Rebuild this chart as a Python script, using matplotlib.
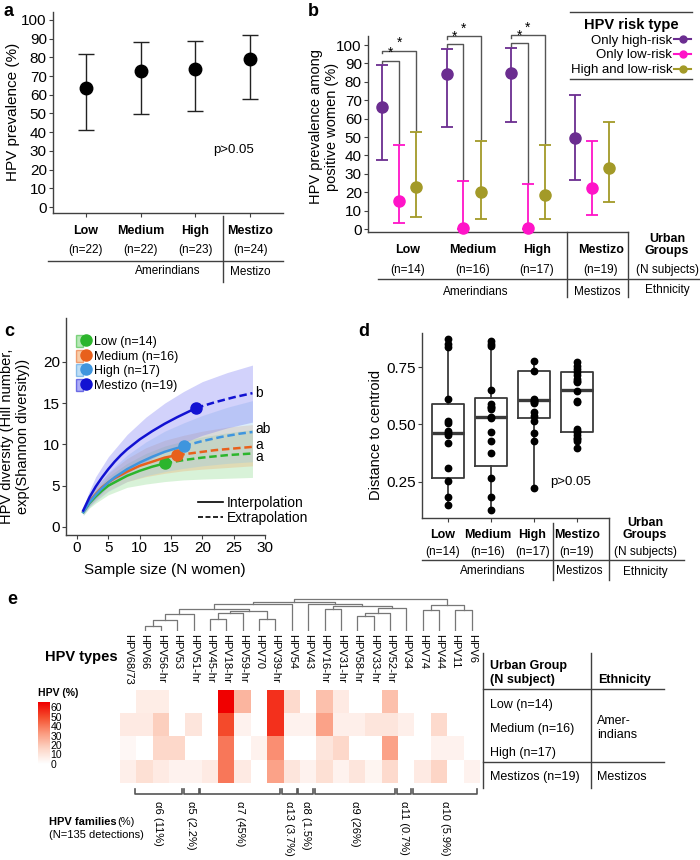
import numpy as np
import matplotlib.pyplot as plt
from matplotlib.lines import Line2D
from matplotlib.patches import Patch
from matplotlib.colors import LinearSegmentedColormap
from matplotlib.transforms import blended_transform_factory
from matplotlib.legend_handler import HandlerTuple

plt.rcParams['font.family'] = ['Liberation Sans', 'DejaVu Sans']

W, H = 700, 860

# ---------------- panel a: HPV prevalence per urban group
GROUPS = ["Low", "Medium", "High", "Mestizo"]
A_N = ["(n=22)", "(n=22)", "(n=23)", "(n=24)"]
A_PREV = [63.5, 72.7, 74.0, 79.0]
A_LO = [41.0, 49.5, 51.5, 57.5]
A_HI = [82.0, 88.3, 89.0, 92.0]

# ---------------- panel b: HPV risk type among positive women
B_N = ["(n=14)", "(n=16)", "(n=17)", "(n=19)"]
RISK_TYPES = ["Only high-risk", "Only low-risk", "High and low-risk"]
B_COLORS = ["#6b2d90", "#ff14c8", "#a39a28"]
B_HR = [66.5, 84.0, 85.0, 49.2]
B_HR_LO = [37.3, 55.7, 57.9, 26.6]
B_HR_HI = [89.0, 98.0, 98.5, 72.9]
B_LR = [15.4, 0.5, 0.5, 22.2]
B_LR_LO = [3.3, 0.0, 0.0, 7.8]
B_LR_HI = [45.6, 25.9, 24.2, 47.9]
B_HL = [22.6, 19.9, 18.6, 32.9]
B_HL_LO = [6.5, 5.6, 5.6, 14.8]
B_HL_HI = [53.0, 48.1, 45.8, 58.4]
B_SIG_INNER = [91.5, 100.5, 101.0]   # high vs low-risk bracket level
B_SIG_OUTER = [97.0, 105.0, 105.5]   # high vs high&low bracket level

# ---------------- panel c: Hill number rarefaction
C_LABELS = ["Low (n=14)", "Medium (n=16)", "High (n=17)", "Mestizo (n=19)"]
C_COLORS = ["#2cb52c", "#e8601c", "#3f95de", "#1212d2"]
C_FILLS = ["#7ed67e", "#f2a766", "#8cc4ee", "#6b6bf2"]
C_LETTERS = ["a", "a", "ab", "b"]
C_LOW_X = [1, 2, 3, 4, 5, 6, 7, 8, 10, 12, 14]
C_LOW_Y = [1.8, 2.9, 3.7, 4.4, 5.0, 5.4, 5.8, 6.2, 6.8, 7.3, 7.7]
C_LOW_EX = [14, 17, 20, 24, 28]
C_LOW_EY = [7.7, 8.1, 8.4, 8.7, 8.9]
C_MED_X = [1, 2, 3, 4, 5, 6, 7, 8, 10, 12, 14, 16]
C_MED_Y = [1.9, 3.1, 4.0, 4.8, 5.4, 5.9, 6.3, 6.7, 7.4, 7.9, 8.4, 8.7]
C_MED_EX = [16, 19, 22, 25, 28]
C_MED_EY = [8.7, 9.0, 9.3, 9.5, 9.7]
C_HIGH_X = [1, 2, 3, 4, 5, 6, 7, 8, 10, 12, 14, 17]
C_HIGH_Y = [1.8, 3.0, 3.9, 4.7, 5.4, 6.0, 6.5, 7.0, 7.8, 8.5, 9.1, 9.8]
C_HIGH_EX = [17, 20, 23, 26, 28]
C_HIGH_EY = [9.8, 10.4, 10.9, 11.3, 11.5]
C_MES_X = [1, 2, 3, 4, 5, 6, 7, 8, 10, 12, 14, 16, 19]
C_MES_Y = [2.0, 3.6, 4.9, 6.0, 7.0, 7.9, 8.7, 9.4, 10.6, 11.6, 12.5, 13.3, 14.4]
C_MES_EX = [19, 22, 25, 28]
C_MES_EY = [14.4, 15.1, 15.7, 16.2]
C_BAND_X = [1, 2, 3, 5, 8, 11, 14, 17, 20, 24, 28]
C_LOW_BLO = [1.4, 2.3, 2.9, 3.9, 4.8, 5.2, 5.5, 5.7, 5.8, 5.9, 6.0]
C_LOW_BHI = [2.2, 3.5, 4.5, 6.1, 7.7, 8.9, 9.8, 10.4, 10.9, 11.4, 11.8]
C_MED_BLO = [1.5, 2.5, 3.2, 4.4, 5.5, 6.1, 6.5, 6.8, 7.0, 7.2, 7.4]
C_MED_BHI = [2.3, 3.7, 4.9, 6.5, 8.3, 9.6, 10.5, 11.1, 11.6, 12.1, 12.4]
C_HIGH_BLO = [1.4, 2.4, 3.1, 4.3, 5.5, 6.2, 6.7, 7.1, 7.4, 7.7, 7.9]
C_HIGH_BHI = [2.2, 3.7, 4.8, 6.6, 8.7, 10.3, 11.6, 12.6, 13.5, 14.5, 15.3]
C_MES_BLO = [1.6, 2.6, 3.4, 4.9, 6.5, 7.9, 9.1, 10.2, 11.1, 12.0, 12.7]
C_MES_BHI = [2.4, 4.4, 6.1, 8.5, 11.2, 13.3, 15.0, 16.4, 17.6, 18.7, 19.6]

# ---------------- panel d: distance to centroid
D_LOW = [0.87, 0.85, 0.835, 0.61, 0.515, 0.505, 0.47, 0.462, 0.455, 0.42, 0.31, 0.255, 0.185, 0.148]
D_MED = [0.865, 0.85, 0.84, 0.648, 0.588, 0.578, 0.575, 0.566, 0.531, 0.53, 0.469, 0.428,
         0.377, 0.265, 0.184, 0.126]
D_HIGH = [0.778, 0.734, 0.61, 0.605, 0.6, 0.598, 0.593, 0.553, 0.535, 0.515, 0.461, 0.428, 0.224]
D_MES = [0.77, 0.756, 0.743, 0.728, 0.714, 0.7, 0.69, 0.683, 0.647, 0.6, 0.596, 0.48, 0.47,
         0.466, 0.454, 0.442, 0.435, 0.429, 0.396]
D_Q1 = [0.265, 0.320, 0.527, 0.466]
D_MEDIAN = [0.461, 0.531, 0.606, 0.648]
D_Q3 = [0.588, 0.614, 0.734, 0.727]
D_WLO = [0.148, 0.126, 0.224, 0.396]
D_WHI = [0.872, 0.865, 0.778, 0.770]

# ---------------- panel e: HPV type heatmap
HPV_TYPES = ["HPV68/73", "HPV66", "HPV56-hr", "HPV53", "HPV51-hr", "HPV45-hr", "HPV18-hr",
             "HPV59-hr", "HPV70", "HPV39-hr", "HPV54", "HPV43", "HPV16-hr", "HPV31-hr",
             "HPV58-hr", "HPV33-hr", "HPV52-hr", "HPV34", "HPV74", "HPV44", "HPV11", "HPV6"]
E_ROWS = ["Low (n=14)", "Medium (n=16)", "High (n=17)", "Mestizos (n=19)"]
E_LOW = [0, 7, 7, 0, 0, 0, 65, 25, 0, 55, 14, 0, 22, 8, 0, 0, 22, 0, 0, 0, 0, 0]
E_MED = [8, 8, 18, 0, 10, 0, 50, 5, 0, 55, 5, 5, 30, 6, 6, 10, 10, 6, 0, 14, 0, 0]
E_HIGH = [3, 0, 15, 15, 0, 0, 40, 0, 5, 35, 0, 0, 10, 15, 0, 0, 30, 0, 0, 5, 5, 0]
E_MES = [6, 12, 8, 5, 5, 8, 40, 8, 0, 30, 10, 5, 12, 5, 10, 4, 14, 0, 8, 16, 0, 5]
# dendrogram merges: (left, right, height)
E_MERGES = [("HPV66", "HPV56-hr", 5), ("A", "HPV53", 11), ("B", "HPV51-hr", 16.7),
            ("HPV45-hr", "HPV18-hr", 12.3), ("D", "HPV59-hr", 18.3), ("HPV70", "HPV39-hr", 12.3),
            ("E", "F", 20), ("C", "G", 21.7), ("H", "HPV54", 26.7),
            ("HPV16-hr", "HPV31-hr", 22.3), ("HPV58-hr", "HPV33-hr", 15), ("Q", "HPV52-hr", 18.3),
            ("R", "HPV34", 23.5), ("P", "S", 25), ("HPV43", "T", 27), ("I", "K", 29.3),
            ("HPV74", "HPV44", 21), ("HPV11", "HPV6", 21), ("U", "V", 25.7), ("J", "X", 31.7)]
E_NODE_NAMES = ["A", "B", "C", "D", "E", "F", "G", "H", "I", "P", "Q", "R", "S", "T", "K",
                "J", "U", "V", "X", "ROOT"]
FAMILIES = ["α6 (11%)", "α5 (2.2%)", "α7 (45%)", "α13 (3.7%)", "α8 (1.5%)", "α9 (26%)",
            "α11 (0.7%)", "α10 (5.9%)"]
FAM_FIRST = [1, 4, 5, 10, 11, 12, 17, 18]
FAM_LAST = [3, 4, 9, 10, 11, 16, 17, 21]

fig = plt.figure(figsize=(7, 8.6), dpi=100)
LC = "#404040"


def fy(y):
    return 1 - y / H


def add_ax(x0, y0, x1, y1):
    return fig.add_axes([x0 / W, 1 - y1 / H, (x1 - x0) / W, (y1 - y0) / H])


def ftxt(x, y, s, **kw):
    kw.setdefault("ha", "center")
    kw.setdefault("va", "center")
    fig.text(x / W, fy(y), s, **kw)


def fline(xs, ys, color=LC, lw=1.0):
    fig.add_artist(Line2D([x / W for x in xs], [fy(y) for y in ys], color=color, lw=lw))


def style(ax, size=10):
    for s in ("top", "right"):
        ax.spines[s].set_visible(False)
    for s in ("left", "bottom"):
        ax.spines[s].set_color(LC)
        ax.spines[s].set_linewidth(1.0)
    ax.tick_params(length=3, width=0.8, color=LC, labelsize=size, pad=1.5)
    ax.patch.set_alpha(0)


# ================= a
ax = add_ax(53, 12.5, 283, 213)
xa = np.arange(1, 5)
for x, p, lo, hi in zip(xa, A_PREV, A_LO, A_HI):
    ax.errorbar(x, p, yerr=[[p - lo], [hi - p]], fmt="o", color="black", ecolor="#222222",
                ms=9, capsize=6, elinewidth=1, capthick=1)
ax.set_xlim(0.4, 4.6)
ax.set_ylim(-3.2, 104)
style(ax, 11)
ax.set_yticks(np.arange(0, 101, 10))
ax.set_xticks(xa)
ax.set_xticklabels([])
ax.text(3.69, 30.5, "p>0.05", fontsize=9.5, ha="center", va="center")
tr = blended_transform_factory(ax.transData, fig.transFigure)
for x, g, n in zip(xa, GROUPS, A_N):
    ax.text(x, fy(231), g, transform=tr, fontsize=9, fontweight="bold", ha="center", va="center")
    ax.text(x, fy(250), n, transform=tr, fontsize=8.5, ha="center", va="center")
ax.text(2.5, fy(271), "Amerindians", transform=tr, fontsize=8.5, ha="center", va="center")
ax.text(4.0, fy(272), "Mestizo", transform=tr, fontsize=8.5, ha="center", va="center")
fline([48, 283], [261, 261])
fline([223, 223], [216, 282])
ftxt(13, 112, "HPV prevalence (%)", fontsize=11, rotation=90)
ftxt(9, 12, "a", fontsize=13, fontweight="bold")

# ================= b
ax = add_ax(368, 25, 628, 232)
ax.set_xlim(0.518, 4.561)
ax.set_ylim(-1.63, 110.9)
offs = [-0.26, 0.0, 0.27]
series = [(B_HR, B_HR_LO, B_HR_HI), (B_LR, B_LR_LO, B_LR_HI), (B_HL, B_HL_LO, B_HL_HI)]
for k, (vals, los, his) in enumerate(series):
    for g in range(4):
        v = vals[g]
        ax.errorbar(g + 1 + offs[k], v, yerr=[[v - los[g]], [his[g] - v]], fmt="o",
                    color=B_COLORS[k], ms=8, capsize=4, elinewidth=1.3, capthick=1.3,
                    clip_on=False, zorder=3)
for g in range(3):
    x0 = g + 1 + offs[0]
    yi, yo = B_SIG_INNER[g], B_SIG_OUTER[g]
    ax.plot([x0, x0, g + 1, g + 1], [yi - 1.5, yi, yi, B_LR_HI[g] + 1],
            color="#555555", lw=1.0, clip_on=False)
    ax.plot([x0, x0, g + 1 + offs[2], g + 1 + offs[2]], [yo - 1.5, yo, yo, B_HL_HI[g] + 1],
            color="#555555", lw=1.0, clip_on=False)
    ax.text((x0 + g + 1) / 2, yi + 0.3, "*", fontsize=10, ha="center", va="bottom")
    ax.text((x0 + g + 1 + offs[2]) / 2, yo + 0.3, "*", fontsize=10, ha="center", va="bottom")
style(ax, 11)
ax.spines["left"].set_bounds(-1.63, 105)
ax.set_yticks(np.arange(0, 101, 10))
ax.set_xticks([])
handles = [Line2D([0], [0], color=c, marker="o", ms=5, lw=1.5) for c in B_COLORS]
leg = ax.legend(handles, RISK_TYPES, title="HPV risk type", markerfirst=False, frameon=False,
                loc="upper right", bbox_to_anchor=(694 / W, fy(15)), bbox_transform=fig.transFigure,
                fontsize=9.5, handlelength=1.3, handletextpad=0.15, labelspacing=0.2,
                borderaxespad=0, borderpad=0.2,
                title_fontproperties={"weight": "bold", "size": 10.5})
fline([570, 692], [12, 12])
fline([570, 692], [79, 79])
tr = blended_transform_factory(ax.transData, fig.transFigure)
for g, (name, n) in enumerate(zip(GROUPS, B_N)):
    ax.text(g + 1.14, fy(250), name, transform=tr, fontsize=9, fontweight="bold", ha="center", va="center")
    ax.text(g + 1.14, fy(270), n, transform=tr, fontsize=8.5, ha="center", va="center")
ax.text(2.19, fy(292), "Amerindians", transform=tr, fontsize=8.5, ha="center", va="center")
ax.text(4.08, fy(292), "Mestizos", transform=tr, fontsize=8.5, ha="center", va="center")
ftxt(667, 245, "Urban\nGroups", fontsize=9, fontweight="bold", linespacing=1.0)
ftxt(667, 270, "(N subjects)", fontsize=8.5)
ftxt(667, 290, "Ethnicity", fontsize=8.5)
fline([378, 700], [279, 279])
fline([567, 567], [232, 297])
fline([628, 628], [232, 297])
ftxt(324, 127, "HPV prevalence among\npositive women (%)", fontsize=10.5, rotation=90, linespacing=1.1)
ftxt(313, 12, "b", fontsize=13, fontweight="bold")

# ================= c
ax = add_ax(66, 318, 265, 535)
ax.set_xlim(-1.75, 30)
ax.set_ylim(-0.97, 25.3)
curves = [(C_LOW_X, C_LOW_Y, C_LOW_EX, C_LOW_EY, C_LOW_BLO, C_LOW_BHI),
          (C_MED_X, C_MED_Y, C_MED_EX, C_MED_EY, C_MED_BLO, C_MED_BHI),
          (C_HIGH_X, C_HIGH_Y, C_HIGH_EX, C_HIGH_EY, C_HIGH_BLO, C_HIGH_BHI),
          (C_MES_X, C_MES_Y, C_MES_EX, C_MES_EY, C_MES_BLO, C_MES_BHI)]
for k, (xi, yi, xe, ye, blo, bhi) in enumerate(curves):
    ax.fill_between(C_BAND_X, blo, bhi, color=C_FILLS[k], alpha=0.3, lw=0)
for k, (xi, yi, xe, ye, blo, bhi) in enumerate(curves):
    ax.plot(xi, yi, color=C_COLORS[k], lw=1.8)
    ax.plot(xe, ye, color=C_COLORS[k], lw=1.8, ls=(0, (3, 1.5)))
    ax.plot(xi[-1], yi[-1], "o", color=C_COLORS[k], ms=8)
    dy = [-0.45, 0.25, 0.35, 0.05][k]
    ax.text(28.4, ye[-1] + dy, C_LETTERS[k], fontsize=10, ha="left", va="center", clip_on=False)
style(ax, 11)
ax.set_xticks(np.arange(0, 31, 5))
ax.set_yticks(np.arange(0, 21, 5))
h1 = [(Patch(facecolor=f, edgecolor=c, alpha=0.55, lw=1),
       Line2D([], [], marker="o", color=c, ls="", ms=8)) for c, f in zip(C_COLORS, C_FILLS)]
leg1 = ax.legend(h1, C_LABELS, handler_map={tuple: HandlerTuple(ndivide=None)}, frameon=False,
                 loc="upper left", bbox_to_anchor=(76 / W, fy(335)), bbox_transform=fig.transFigure,
                 fontsize=9, handlelength=1.1, handleheight=1.1, handletextpad=0.3,
                 labelspacing=0.1, borderaxespad=0, borderpad=0)
ax.add_artist(leg1)
h2 = [Line2D([], [], color="black", lw=1.2), Line2D([], [], color="black", lw=1.2, ls=(0, (3, 1.5)))]
ax.legend(h2, ["Interpolation", "Extrapolation"], frameon=False, loc="upper left",
          bbox_to_anchor=(198 / W, fy(496)), bbox_transform=fig.transFigure, fontsize=10,
          handlelength=1.8, handletextpad=0.3, labelspacing=0.05, borderaxespad=0, borderpad=0)
ftxt(165, 570, "Sample size (N women)", fontsize=11)
ftxt(15, 436, "HPV diversity (Hill number,\nexp(Shannon diversity))", fontsize=10.5,
     rotation=90, linespacing=1.1)
ftxt(9, 332, "c", fontsize=13, fontweight="bold")

# ================= d
ax = add_ax(422, 333, 609, 518)
ax.set_xlim(0.395, 4.744)
ax.set_ylim(0.093, 0.898)
stats = [dict(med=m, q1=a, q3=b, whislo=lo, whishi=hi, fliers=[])
         for m, a, b, lo, hi in zip(D_MEDIAN, D_Q1, D_Q3, D_WLO, D_WHI)]
ax.bxp(stats, positions=[1, 2, 3, 4], widths=0.76, showfliers=False, showcaps=False,
       boxprops=dict(color="#3a3a3a", lw=1.3), whiskerprops=dict(color="#3a3a3a", lw=1.3),
       medianprops=dict(color="#3a3a3a", lw=2.4), manage_ticks=False)
for i, vals in enumerate([D_LOW, D_MED, D_HIGH, D_MES]):
    ax.plot(np.full(len(vals), i + 1), vals, "o", color="black", ms=4.6, zorder=3)
style(ax, 11)
ax.set_yticks([0.25, 0.5, 0.75])
ax.set_yticklabels(["0.25", "0.50", "0.75"])
ax.set_xticks([1, 2, 3, 4])
ax.set_xticklabels([])
ax.text(3.85, 0.25, "p>0.05", fontsize=9.5, ha="center", va="center")
tr = blended_transform_factory(ax.transData, fig.transFigure)
for i, (name, n) in enumerate(zip(GROUPS, B_N)):
    ax.text(i + 0.88 + 0.04 * i, fy(535), name, transform=tr, fontsize=9, fontweight="bold",
            ha="center", va="center")
    ax.text(i + 0.88 + 0.04 * i, fy(552), n, transform=tr, fontsize=8.5, ha="center", va="center")
ax.text(2.05, fy(571), "Amerindians", transform=tr, fontsize=8.5, ha="center", va="center")
ax.text(4.05, fy(571), "Mestizos", transform=tr, fontsize=8.5, ha="center", va="center")
ftxt(645, 529, "Urban\nGroups", fontsize=9, fontweight="bold", linespacing=1.0)
ftxt(645, 552, "(N subjects)", fontsize=8.5)
ftxt(645, 572, "Ethnicity", fontsize=8.5)
fline([422, 684], [560, 560])
fline([553, 553], [523, 580])
fline([609, 609], [518, 580])
ftxt(376, 435, "Distance to centroid", fontsize=10.5, rotation=90)
ftxt(364, 332, "d", fontsize=13, fontweight="bold")

# ================= e
cmap = LinearSegmentedColormap.from_list("hpv", ["#ffffff", "#fdd5c6", "#fb9a7e", "#f5502f", "#f00000"])
VMAX = 65
ax = add_ax(120, 690, 480, 783)
mat = np.array([E_LOW, E_MED, E_HIGH, E_MES], dtype=float)
ax.imshow(mat, cmap=cmap, vmin=0, vmax=VMAX, aspect="auto", extent=(0, len(HPV_TYPES), 4, 0),
          interpolation="nearest")
ax.set_axis_off()
tr = blended_transform_factory(ax.transData, fig.transFigure)
for j, name in enumerate(HPV_TYPES):
    ax.text(j + 0.5, fy(634), name, transform=tr, rotation=-90, fontsize=8,
            ha="center", va="top")
for lab, a, b in zip(FAMILIES, FAM_FIRST, FAM_LAST):
    x0, x1 = a - 0.1, b + 0.8
    fig.add_artist(Line2D([x0, x0, x1, x1], [fy(789), fy(794), fy(794), fy(789)],
                          transform=tr, color="#555555", lw=1.2))
    ax.text((x0 + x1) / 2, fy(801), lab, transform=tr, rotation=-90, fontsize=8,
            ha="center", va="top")

# dendrogram
dax = add_ax(120, 595, 480, 631)
dax.set_xlim(0, len(HPV_TYPES))
dax.set_ylim(0, 36)
dax.set_axis_off()
pos = {name: j + 0.5 for j, name in enumerate(HPV_TYPES)}
hgt = {name: 0.0 for name in HPV_TYPES}
for node, (l, r, h) in zip(E_NODE_NAMES, E_MERGES):
    xl, xr = pos[l], pos[r]
    dax.plot([xl, xl, xr, xr], [hgt[l], h, h, hgt[r]], color="#777777", lw=0.9)
    pos[node] = (xl + xr) / 2
    hgt[node] = h

# colour scale
cax = add_ax(38, 700, 49, 775)
grad = np.linspace(0, VMAX, 100).reshape(-1, 1)
cax.imshow(grad, cmap=cmap, vmin=0, vmax=VMAX, aspect="auto", origin="lower",
           extent=(0, 1, 0, VMAX))
cax.set_xlim(0, 1)
cax.set_ylim(-11.6, 67.4)
for s in cax.spines.values():
    s.set_visible(False)
cax.set_xticks([])
cax.yaxis.tick_right()
cax.set_yticks(np.arange(0, 61, 10))
cax.tick_params(axis="y", length=0, labelsize=7.5, pad=1)
ftxt(38, 693, "HPV (%)", fontsize=7.5, fontweight="bold", ha="left")

ftxt(45, 657, "HPV types", fontsize=10.5, fontweight="bold", ha="left")
ftxt(49, 822, "HPV families", fontsize=8, fontweight="bold", ha="left")
ftxt(117, 822, "(%)", fontsize=8, ha="left")
ftxt(49, 835, "(N=135 detections)", fontsize=8, ha="left")

# table to the right of the heatmap
fline([483, 483], [653, 788])
fline([591, 591], [653, 788])
fline([483, 664], [689, 689])
fline([483, 664], [762, 762])
ftxt(490, 673, "Urban Group\n(N subject)", fontsize=9, fontweight="bold", ha="left", linespacing=1.3)
ftxt(598, 680, "Ethnicity", fontsize=9, fontweight="bold", ha="left")
for i, lab in enumerate(E_ROWS):
    ftxt(490, 705 + 24 * i, lab, fontsize=9, ha="left")
ftxt(597, 728, "Amer-\nindians", fontsize=9, ha="left", linespacing=1.2)
ftxt(597, 777, "Mestizos", fontsize=9, ha="left")
ftxt(12, 600, "e", fontsize=13, fontweight="bold")

fig.savefig("out.png", dpi=100)
